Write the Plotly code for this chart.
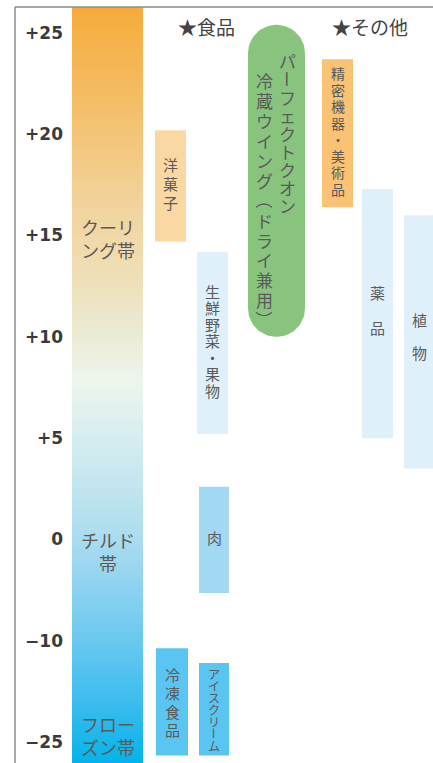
import numpy as np
import plotly.graph_objects as go

# ---------------- data ----------------
tick_temps = [-25, -10, 0, 5, 10, 15, 20, 25]
tick_labels = ["−25", "−10", "0", "+5", "+10", "+15", "+20", "+25"]

categories = ["洋菓子", "生鮮野菜・果物", "肉", "冷凍食品", "アイスクリーム",
              "精密機器・美術品", "薬品", "植物"]
temp_high = [20.2, 14.2, 2.6, -11.1, -13.3, 23.7, 17.3, 16.0]
temp_low = [14.7, 5.2, -5.3, -27.0, -27.0, 16.4, 5.0, 3.5]
bar_colors = ["#fad8a3", "#dff0fa", "#a2d8f4", "#5bc5f1", "#5bc5f1",
              "#f9c274", "#dff0fa", "#dff0fa"]

wing_label_right = "パーフェクトクオン"
wing_label_left = "冷蔵ウイング（ドライ兼用）"
wing_high = 25.4
wing_low = 10.0

zone_labels = ["クーリ<br>ング帯", "チルド<br>帯", "フロー<br>ズン帯"]
zone_temps = [14.85, -1.2, -24.1]

gradient_temps = [-28.1, -18.78, -9.93, -2.03, 1.94, 4.91, 7.87, 10.33, 13.79, 16.75, 21.69, 26.28]
gradient_colors = ["#05b2ea", "#3dbdee", "#6bc8ef", "#9fd8f0", "#bde3ef", "#d5edf0",
                   "#eef5ec", "#ebe9d2", "#f0dcb0", "#f2d29a", "#f4bd66", "#f5ab3b"]

headers = ["★食品", "★その他"]

# ---------------- layout constants (page pixels) ----------------
W, H = 433, 763
ML = 64                      # x of plot-area left edge
Y_RANGE = [-0.207, 7.325]
PX_PER_UNIT = H / (Y_RANGE[1] - Y_RANGE[0])
bar_x = [170.5, 212.5, 214, 172, 214, 337.5, 377.5, 419]
bar_w = [31, 31, 30, 32, 30, 31, 31, 30]
text_size = [15, 15, 15, 15, 12, 14, 15, 15]
text_step = [19, 16.5, 18, 18.5, 12, 16.5, 35, 33]
text_dy = [-2, -2, -2, 0, 0, -2, -4, -6]
wing_x0, wing_x1 = 248, 305
zone_x0, zone_x1 = 72, 143
JP = "Noto Sans CJK JP"
TXT = "#5a5a5a"


def to_pos(t):
    t = np.asarray(t, dtype=float)
    p = np.interp(t, tick_temps, np.arange(len(tick_temps)))
    p = np.where(t < tick_temps[0], (t - tick_temps[0]) / (tick_temps[1] - tick_temps[0]), p)
    p = np.where(t > tick_temps[-1],
                 len(tick_temps) - 1 + (t - tick_temps[-1]) / (tick_temps[-1] - tick_temps[-2]), p)
    return p


fig = go.Figure()

# gradient zone bar
g_pos = to_pos(gradient_temps)
edges = np.linspace(g_pos[0], g_pos[-1], 301)
centers = (edges[:-1] + edges[1:]) / 2
cs = [[(p - g_pos[0]) / (g_pos[-1] - g_pos[0]), c] for p, c in zip(g_pos, gradient_colors)]
fig.add_trace(go.Heatmap(z=centers.reshape(-1, 1), x=[zone_x0, zone_x1], y=edges,
                         colorscale=cs, zmin=g_pos[0], zmax=g_pos[-1],
                         showscale=False, hoverinfo="skip"))

# bars
hi = to_pos(temp_high)
lo = to_pos(temp_low)
fig.add_trace(go.Bar(x=bar_x, y=hi - lo, base=lo, width=bar_w,
                     marker=dict(color=bar_colors, line=dict(width=0)),
                     hovertext=categories, hoverinfo="text"))

# rounded wing
wt, wb = float(to_pos(wing_high)), float(to_pos(wing_low))
r = (wing_x1 - wing_x0) / 2
ry = r / PX_PER_UNIT
cx = (wing_x0 + wing_x1) / 2
a1 = np.linspace(np.pi, 0, 40)
a2 = np.linspace(0, -np.pi, 40)
px = np.concatenate([cx + r * np.cos(a1), cx + r * np.cos(a2)])
py = np.concatenate([wt - ry + ry * np.sin(a1), wb + ry + ry * np.sin(a2)])
fig.add_trace(go.Scatter(x=px, y=py, fill="toself", fillcolor="#89c47f",
                         line=dict(width=0), mode="lines", hoverinfo="skip"))

ann = []
ROT = set("ー（）()")


def vtext(s, x, y, start_shift, step, size, color=TXT, center=False):
    n = len(s)
    for i, ch in enumerate(s):
        off = (i - (n - 1) / 2) * step + start_shift if center else start_shift + i * step
        ann.append(dict(x=x, y=y, xref="x", yref="y", text=ch, showarrow=False,
                        xanchor="center", yanchor="middle", yshift=-off,
                        textangle=90 if ch in ROT else 0,
                        font=dict(family=JP, size=size, color=color)))


for c, x, h, l, sz, st, dy in zip(categories, bar_x, hi, lo, text_size, text_step, text_dy):
    vtext(c, x, (h + l) / 2, dy, st, sz, center=True)

vtext(wing_label_right, cx + 11, wt, 36, 18.1, 17)
vtext(wing_label_left, cx - 12, wt, 56, 19.9, 17)

for t, z in zip(zone_labels, zone_temps):
    ann.append(dict(x=(zone_x0 + zone_x1) / 2, y=float(to_pos(z)), xref="x", yref="y",
                    text=t, showarrow=False, xanchor="center", yanchor="middle",
                    font=dict(family=JP, size=18, color=TXT)))

for t, x in zip(headers, [206, 370]):
    ann.append(dict(x=x, y=1 - 27 / H, xref="x", yref="paper", text=t, showarrow=False,
                    xanchor="center", yanchor="middle",
                    font=dict(family=JP, size=19, color="#444444")))

# frame lines (top and left)
fx = (15 - ML) / (W - ML)
fy = 1 - 7 / H
shapes = [
    dict(type="line", xref="paper", yref="paper", x0=fx, x1=1, y0=fy, y1=fy,
         line=dict(color="#8c8c8c", width=1.5)),
    dict(type="line", xref="paper", yref="paper", x0=fx, x1=fx, y0=fy, y1=0,
         line=dict(color="#8c8c8c", width=1.5)),
]

fig.update_layout(
    width=W, height=H, margin=dict(l=ML, r=0, t=0, b=0),
    paper_bgcolor="white", plot_bgcolor="white", showlegend=False,
    barmode="overlay", annotations=ann, shapes=shapes,
    xaxis=dict(range=[ML, W], visible=False, fixedrange=True),
    yaxis=dict(range=Y_RANGE, tickvals=list(range(len(tick_temps))), ticktext=tick_labels,
               showgrid=False, zeroline=False, showline=False, ticks="",
               tickfont=dict(family="DejaVu Sans", size=17, color="#3a3a3a", weight="bold"),
               automargin=False, fixedrange=True),
)
fig.write_html("out.html", config={"displayModeBar": False},
               post_script="document.body.style.margin='0';document.body.style.overflow='hidden';")
